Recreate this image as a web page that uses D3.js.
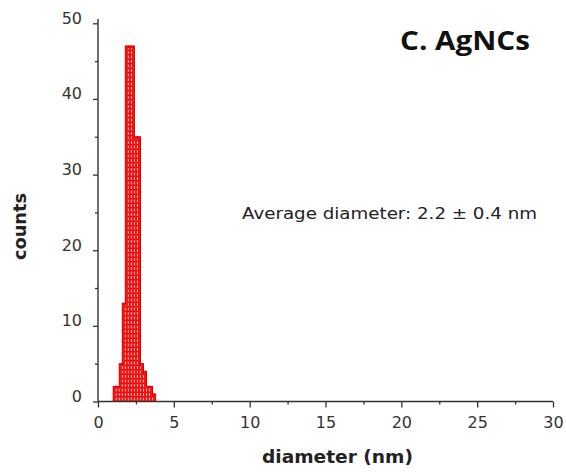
<!DOCTYPE html>
<html>
<head>
<meta charset="utf-8">
<script src="https://cdn.jsdelivr.net/npm/d3@7"></script>
<style>
  html, body { margin: 0; padding: 0; background: #fff; }
  svg { display: block; }
</style>
</head>
<body>
<svg id="chart" width="566" height="473"></svg>
<script>
// Size distribution of Ag nanoclusters (bin width 0.2 nm)
const binStarts = [1.0, 1.2, 1.4, 1.6, 1.8, 2.0, 2.2, 2.4, 2.6, 2.8, 3.0, 3.2, 3.4, 3.6];
const binWidth = 0.2;
const counts   = [2, 2, 5, 13, 47, 47, 47, 35, 35, 5, 4, 2, 2, 1];

const xMajorTicks = [0, 5, 10, 15, 20, 25, 30];
const xMinorTicks = [2.5, 7.5, 12.5, 17.5, 22.5, 27.5];
const yMajorTicks = [0, 10, 20, 30, 40, 50];
const yMinorTicks = [5, 15, 25, 35, 45];

const titleText = "C. AgNCs";
const noteText = "Average diameter: 2.2 \u00b1 0.4 nm";
const xTitle = "diameter (nm)";
const yTitle = "counts";

const svg = d3.select("#chart");
const axisColor = "#333";
const tickFont = "'DejaVu Sans', Verdana, sans-serif";

const x = d3.scaleLinear().domain([0, 30]).range([98, 553]);
const y = d3.scaleLinear().domain([0, 50]).range([401.5, 23.3]);

// histogram bars
const bars = binStarts.map((s, i) => ({ x0: s, x1: s + binWidth, n: counts[i] }));

svg.append("g")
  .selectAll("rect")
  .data(bars)
  .join("rect")
  .attr("x", d => x(d.x0))
  .attr("y", d => y(d.n))
  .attr("width", d => x(d.x1) - x(d.x0))
  .attr("height", d => y(0) - y(d.n))
  .attr("fill", "#ff1010")
  .attr("stroke", "#d00000")
  .attr("stroke-width", 1);

// light dashed seams between neighbouring bars
svg.append("g")
  .selectAll("line")
  .data(bars.slice(1).map((d, i) => ({ at: d.x0, h: Math.min(d.n, bars[i].n) })))
  .join("line")
  .attr("x1", d => x(d.at))
  .attr("x2", d => x(d.at))
  .attr("y1", y(0) - 1)
  .attr("y2", d => y(d.h) + 2)
  .attr("stroke", "#ffd0d0")
  .attr("stroke-width", 0.9)
  .attr("stroke-dasharray", "3,1.5");

// y axis
const yAxis = svg.append("g").attr("transform", `translate(${x(0)},0)`);
yAxis.call(d3.axisLeft(y).tickValues(yMajorTicks).tickSize(5).tickPadding(11).tickSizeOuter(0));
yAxis.select(".domain").remove();
yAxis.selectAll("line").attr("stroke", axisColor).attr("stroke-width", 1.3);
yAxis.selectAll("text")
  .attr("dy", "0em")
  .attr("fill", "#333")
  .style("font-family", tickFont)
  .style("font-size", "16px");

const yMinor = svg.append("g").attr("transform", `translate(${x(0)},0)`);
yMinor.call(d3.axisLeft(y).tickValues(yMinorTicks).tickSize(3).tickFormat(""));
yMinor.select(".domain").remove();
yMinor.selectAll("line").attr("stroke", axisColor).attr("stroke-width", 1.3);

svg.append("line")
  .attr("x1", x(0)).attr("x2", x(0))
  .attr("y1", 19).attr("y2", y(0))
  .attr("stroke", axisColor).attr("stroke-width", 1.4);

// x axis
const xAxis = svg.append("g").attr("transform", `translate(0,${y(0)})`);
xAxis.call(d3.axisBottom(x).tickValues(xMajorTicks).tickSize(6).tickPadding(9).tickSizeOuter(0));
xAxis.select(".domain").remove();
xAxis.selectAll("line").attr("stroke", axisColor).attr("stroke-width", 1.3);
xAxis.selectAll("text")
  .attr("fill", "#333")
  .style("font-family", tickFont)
  .style("font-size", "16px");

const xMinor = svg.append("g").attr("transform", `translate(0,${y(0)})`);
xMinor.call(d3.axisBottom(x).tickValues(xMinorTicks).tickSize(3).tickFormat(""));
xMinor.select(".domain").remove();
xMinor.selectAll("line").attr("stroke", axisColor).attr("stroke-width", 1.3);

svg.append("line")
  .attr("x1", x(0)).attr("x2", x(30))
  .attr("y1", y(0)).attr("y2", y(0))
  .attr("stroke", axisColor).attr("stroke-width", 1.4);

// axis titles
svg.append("text")
  .attr("x", 262).attr("y", 463)
  .attr("fill", "#222")
  .attr("textLength", 151)
  .attr("lengthAdjust", "spacingAndGlyphs")
  .style("font-family", "'DejaVu Sans', sans-serif")
  .style("font-weight", "bold")
  .style("font-size", "18px")
  .text(xTitle);

svg.append("text")
  .attr("transform", "translate(25.5,260) rotate(-90)")
  .attr("fill", "#222")
  .attr("textLength", 67)
  .attr("lengthAdjust", "spacingAndGlyphs")
  .style("font-family", "'DejaVu Sans', sans-serif")
  .style("font-weight", "bold")
  .style("font-size", "18px")
  .text(yTitle);

// panel label and annotation
svg.append("text")
  .attr("x", 400).attr("y", 49.5)
  .attr("fill", "#111")
  .attr("textLength", 130)
  .attr("lengthAdjust", "spacingAndGlyphs")
  .style("font-family", "'Open Sans', Lato, sans-serif")
  .style("font-weight", "bold")
  .style("font-size", "26px")
  .text(titleText);

svg.append("text")
  .attr("x", 242).attr("y", 218.5)
  .attr("fill", "#222")
  .attr("textLength", 295)
  .attr("lengthAdjust", "spacingAndGlyphs")
  .style("font-family", tickFont)
  .style("font-size", "16px")
  .text(noteText);
</script>
</body>
</html>
